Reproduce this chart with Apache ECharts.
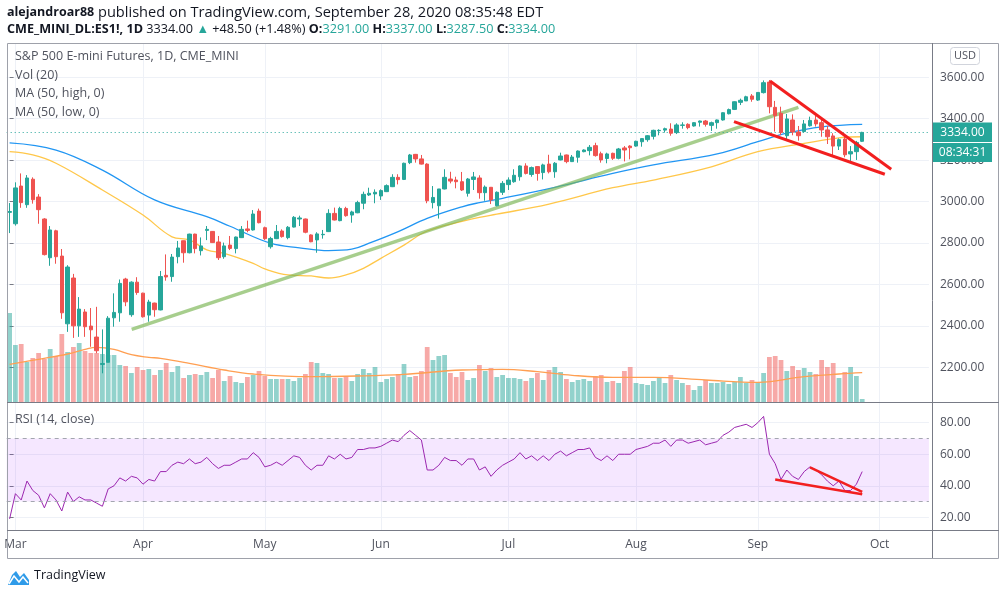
<!DOCTYPE html>
<html><head><meta charset="utf-8">
<script src="https://cdn.jsdelivr.net/npm/echarts@6/dist/echarts.min.js"></script>
<style>html,body{margin:0;padding:0;background:#fff}#c{width:1005px;height:595px}</style>
</head><body><div id="c"></div>
<script>
// ---- trading days (categories) ----
const daysFeb = [28];
const daysMar = [2,3,4,5,6,9,10,11,12,13,16,17,18,19,20,23,24,25,26,27,30,31];
const daysApr = [1,2,3,6,7,8,9,13,14,15,16,17,20,21,22,23,24,27,28,29,30];
const daysMay = [1,4,5,6,7,8,11,12,13,14,15,18,19,20,21,22,26,27,28,29];
const daysJun = [1,2,3,4,5,8,9,10,11,12,15,16,17,18,19,22,23,24,25,26,29,30];
const daysJul = [1,2,6,7,8,9,10,13,14,15,16,17,20,21,22,23,24,27,28,29,30,31];
const daysAug = [3,4,5,6,7,10,11,12,13,14,17,18,19,20,21,24,25,26,27,28,31];
const daysSep = [1,2,3,4,8,9,10,11,14,15,16,17,18,21,22,23,24,25,28,29,30];
const daysOct = [1,2,5,6,7,8,9,12,13];
const monthNames = ['Jan','Feb','Mar','Apr','May','Jun','Jul','Aug','Sep','Oct','Nov','Dec'];

// ---- OHLC ----
const opens = [2948,2893,3075,2985,3108,3022,2916,2729,2859,2737,
2410,2631,2400,2467,2399,2346,2214,2224,2439,2463,
2626,2454,2611,2558,2452,2510,2477,2644,2638,2734,
2811,2753,2843,2763,2861,2856,2805,2734,2790,2773,
2826,2868,2863,2954,2874,2782,2821,2858,2826,2877,
2916,2916,2839,2815,2840,2855,2943,2908,2967,2935,
2946,2992,3032,3037,3027,3048,3072,3117,3107,3188,
3228,3206,3181,2995,2980,3061,3109,3104,3096,3040,
3107,3114,3043,3069,2980,3045,3082,3096,3120,3172,
3131,3169,3140,3181,3144,3201,3225,3193,3214,3241,
3246,3270,3231,3208,3233,3209,3259,3268,3268,3289,
3299,3315,3342,3345,3350,3333,3368,3373,3365,3383,
3389,3368,3381,3394,3424,3445,3479,3486,3510,3490,
3526,3577,3455,3426,3318,3394,3336,3338,3366,3394,
3381,3346,3317,3268,3302,3230,3241,3291];
const highs = [2993,3093,3136,3128,3117,3036,2920,2882,2864,2771,
2693,2651,2539,2481,2486,2492,2383,2447,2557,2624,
2632,2615,2635,2560,2526,2512,2665,2745,2747,2810,
2812,2845,2845,2827,2882,2858,2834,2802,2834,2831,
2882,2908,2959,2966,2879,2830,2887,2866,2882,2930,
2932,2918,2842,2852,2863,2963,2971,2975,2975,2956,
3004,3048,3067,3059,3059,3083,3132,3132,3188,3230,
3230,3225,3185,3075,3061,3156,3144,3120,3143,3114,
3143,3127,3078,3070,3049,3099,3117,3156,3175,3185,
3169,3171,3183,3226,3191,3236,3227,3225,3247,3252,
3273,3284,3241,3236,3236,3259,3268,3272,3294,3305,
3321,3347,3349,3357,3378,3378,3383,3378,3383,3391,
3394,3386,3396,3431,3449,3484,3497,3511,3519,3528,
3585,3587,3486,3458,3423,3421,3365,3394,3410,3415,
3394,3365,3330,3305,3313,3268,3293,3337];
const lows = [2848,2884,2970,2970,2990,2893,2740,2690,2700,2434,
2371,2342,2347,2347,2299,2268,2171,2224,2396,2420,
2495,2444,2550,2440,2420,2444,2475,2618,2613,2702,
2705,2750,2750,2740,2814,2800,2718,2724,2766,2750,
2824,2852,2860,2895,2815,2773,2819,2826,2818,2875,
2882,2847,2804,2753,2821,2853,2909,2905,2927,2898,
2944,2963,3027,2992,3008,3046,3070,3083,3104,3181,
3188,3179,2992,2967,2918,3059,3088,3064,3051,3024,
3056,3014,3004,2988,2977,3032,3056,3091,3101,3131,
3120,3101,3107,3136,3115,3199,3185,3191,3188,3238,
3223,3217,3188,3185,3201,3204,3194,3204,3265,3265,
3289,3300,3320,3333,3318,3326,3352,3349,3362,3362,
3362,3341,3352,3391,3421,3442,3466,3486,3482,3486,
3522,3426,3338,3321,3294,3320,3294,3333,3362,3362,
3313,3278,3220,3249,3214,3194,3201,3287.5];
const closes = [2952,3066,2995,3114,3009,2961,2744,2863,2734,2463,
2684,2400,2481,2396,2381,2280,2218,2437,2465,2605,
2516,2611,2561,2444,2515,2478,2638,2636,2732,2776,
2753,2843,2773,2786,2866,2802,2729,2786,2774,2829,
2866,2861,2940,2898,2821,2822,2856,2831,2876,2924,
2921,2852,2806,2844,2842,2943,2911,2967,2932,2950,
2995,3035,3040,3045,3053,3077,3117,3106,3185,3225,
3206,3181,3004,3020,3061,3117,3099,3096,3056,3109,
3119,3043,3070,3008,3045,3088,3104,3127,3172,3136,
3164,3136,3177,3144,3185,3220,3193,3215,3244,3249,
3262,3222,3201,3230,3209,3254,3249,3260,3291,3304,
3318,3344,3344,3352,3330,3370,3370,3357,3381,3389,
3373,3381,3394,3429,3444,3482,3489,3506,3494,3527,
3574,3458,3415,3334,3399,3336,3318,3375,3392,3375,
3346,3313,3268,3299,3226,3241,3285.5,3334];

// ---- volume (thousand contracts) ----
const volumes = [3560,2280,2320,1600,1760,1960,1720,2120,1840,2720,
2000,2200,2360,2040,1960,1960,1920,1880,1880,1480,
1440,1160,1400,1280,1320,1080,1280,1560,1200,1440,
960,1080,1120,1080,1200,960,1280,840,1040,800,
760,1000,1080,1240,1040,920,920,920,920,840,
960,1120,1600,1560,1160,1120,960,960,1040,840,
1120,1320,1160,1400,800,920,1000,1120,1520,1000,
1040,1240,2200,1680,1840,1880,1160,1000,1200,880,
960,1480,1240,1360,1000,1080,960,960,920,840,
960,1160,880,1280,1400,1200,920,800,880,920,
840,1040,1080,800,840,760,1240,1400,760,720,
680,840,1000,760,1080,880,760,680,480,640,
880,760,760,800,720,800,1000,760,880,800,
1160,1800,1840,1680,1240,1440,1280,1360,1200,1120,
1680,1400,1560,960,1200,1400,1040,120];
const volMA20 = [[0,1508],[5,1708],[10,1920],[13,2108],[15,2188],[18,2108],[21,1892],[24,1788],[26,1748],[31,1548],[37,1280],[42,1120],[52,1012],[60,1040],[68,1108],[78,1280],[85,1308],[91,1212],[97,1068],[104,988],[111,988],[120,880],[129,788],[137,1012],[143,1120],[147,1172]];

// ---- moving averages ----
const maHigh50 = [[0,3283],[8,3249],[16,3152],[25,3008],[34,2927],[38,2881],[45,2799],[50,2777],[55,2763],[59,2770],[62,2799],[67,2855],[72,2919],[78,2975],[81,2995],[85,3016],[94,3069],[104,3136],[111,3177],[122,3230],[129,3289],[134,3330],[140,3361],[147,3373]];
const maLow50 = [[0,3241],[4,3225],[8,3185],[16,3056],[23,2935],[28,2830],[31,2815],[34,2767],[37,2750],[42,2702],[44,2675],[48,2646],[52,2641],[55,2631],[58,2646],[61,2678],[64,2726],[68,2790],[72,2858],[78,2904],[81,2924],[84,2939],[93,2988],[104,3067],[111,3104],[121,3168],[129,3241],[137,3281],[143,3308],[147,3313]];

// ---- RSI(14) ----
const rsi = [19,35,31,43,37,34,26,35,31,24,
36,30,33,31,31,29,27,38,40,45,
43,46,45,41,44,43,49,49,53,55,
54,57,54,55,58,54,51,53,53,55,
57,57,61,58,52,53,55,53,56,59,
58,53,50,53,53,59,57,60,57,58,
63,63,64,64,65,67,69,68,72,75,
72,69,50,50,53,58,56,56,53,57,
57,50,52,46,50,53,55,57,61,57,
59,56,59,56,60,62,59,61,63,63,
64,58,56,59,56,60,60,60,63,64,
65,67,67,69,65,69,69,67,68,69,
66,67,68,72,74,77,78,79,77,80,
84,60,54,44,50,46,44,49,52,50,
47,43,40,43,37,37,41,49];

// ---- drawn trend lines [barIndex, value] ----
const greenTrend = [[21.05,2383],[136,3455]];
const redUpper = [[131.1,3582],[152,3156]];
const redLower = [[124.9,3386],[150.9,3132]];
const rsiUpper = [[138,51.7],[147,36.2]];
const rsiLower = [[132,44],[147,34.6]];
const lastPrice = 3334;

// ---- build ----
const cats = [];
function addM(m, arr){ arr.forEach(d => cats.push('2020-' + m + '-' + String(d).padStart(2,'0'))); }
addM('02',daysFeb); addM('03',daysMar); addM('04',daysApr); addM('05',daysMay);
addM('06',daysJun); addM('07',daysJul); addM('08',daysAug); addM('09',daysSep); addM('10',daysOct);
const N = cats.length;
const UP = '#26a69a', DN = '#ef5350';
const candleData = opens.map((o,i)=>[o, closes[i], lows[i], highs[i]]);
const volData = volumes.map((v,i)=>({value:v, itemStyle:{color: closes[i]>=opens[i] ? 'rgba(38,166,154,0.5)' : 'rgba(239,83,80,0.5)'}}));
function isMonthStart(i){ return i>0 && cats[i].slice(5,7)!==cats[i-1].slice(5,7); }

const F = '"Open Sans", "Liberation Sans", sans-serif';
const GL = 6.7, GR = 76.1;
const gridLineColor = '#eef1f7';
const legendStyle = {fontFamily:F,fontSize:12.5,fontWeight:'normal',color:'#50535e'};
const hdrB = {fontFamily:F,fontSize:12.6,fontWeight:'bold',color:'#131722'};
const hdrN = {fontFamily:F,fontSize:12.7,fontWeight:'normal',color:'#131722'};
const hdrG = {fontFamily:F,fontSize:12.7,fontWeight:'normal',color:UP};

const option = {
  animation:false,
  backgroundColor:'#ffffff',
  textStyle:{fontFamily:F},
  title:[
    {left:7, top:5, padding:0, text:'{b|alejandroar88}{n| published on TradingView.com, September 28, 2020 08:35:48 EDT}',
     textStyle:{fontWeight:'normal', rich:{b:{fontFamily:F,fontSize:12.5,fontWeight:'bold',color:'#131722'}, n:{fontFamily:F,fontSize:14.6,fontWeight:'normal',color:'#131722'}}}},
    {left:7, top:23, padding:0, text:'{b|CME_MINI_DL:ES1!, 1D}{n| 3334.00 }{g|▲}{n| +48.50 (+1.48%) }{b|O:}{g|3291.00}{b| H:}{g|3337.00}{b| L:}{g|3287.50}{b| C:}{g|3334.00}',
     textStyle:{fontWeight:'normal', rich:{b:hdrB, n:hdrN, g:hdrG}}},
    {left:15, top:50, padding:0, text:'S&P 500 E-mini Futures, 1D, CME_MINI', textStyle:legendStyle},
    {left:15, top:68.5, padding:0, text:'Vol (20)', textStyle:legendStyle},
    {left:15, top:87, padding:0, text:'MA (50, high, 0)', textStyle:legendStyle},
    {left:15, top:105.5, padding:0, text:'MA (50, low, 0)', textStyle:legendStyle},
    {left:15, top:413, padding:0, text:'RSI (14, close)', textStyle:legendStyle},
    {left:34, top:569, padding:0, text:'TradingView', textStyle:{fontFamily:F,fontSize:12.5,fontWeight:'normal',color:'#131722'}}
  ],
  grid:[
    {left:GL, right:GR, top:43, height:359, outerBoundsMode:'none'},
    {left:GL, right:GR, top:300, height:102, outerBoundsMode:'none'},
    {left:GL, right:GR, top:403, height:127, outerBoundsMode:'none'}
  ],
  xAxis:[
    {type:'category', gridIndex:0, data:cats, boundaryGap:true,
     axisLine:{show:false}, axisTick:{show:false}, axisLabel:{show:false},
     splitLine:{show:true, alignWithLabel:true, interval:(i)=>isMonthStart(i), lineStyle:{color:gridLineColor}}},
    {type:'category', gridIndex:1, data:cats, boundaryGap:true, show:false},
    {type:'value', gridIndex:0, min:-0.5, max:N-0.5, show:false},
    {type:'value', gridIndex:1, min:-0.5, max:N-0.5, show:false},
    {type:'category', gridIndex:2, data:cats, boundaryGap:true,
     axisLine:{show:false}, axisTick:{show:false},
     axisLabel:{show:true, interval:(i)=>isMonthStart(i), formatter:(v)=>monthNames[+v.slice(5,7)-1], color:'#50535e', fontSize:12, fontFamily:F, margin:9},
     splitLine:{show:true, alignWithLabel:true, interval:(i)=>isMonthStart(i), lineStyle:{color:gridLineColor}}},
    {type:'value', gridIndex:2, min:-0.5, max:N-0.5, show:false}
  ],
  yAxis:[
    {type:'value', gridIndex:0, position:'right', offset:3.1, min:2032.5, max:3765.6, minInterval:200, maxInterval:200, scale:true,
     axisLine:{show:false}, axisTick:{show:true, length:4, lineStyle:{color:'#787b86'}},
     axisLabel:{formatter:(v)=>v.toFixed(2), color:'#50535e', fontSize:12, fontFamily:F, margin:8, showMinLabel:false, showMaxLabel:false},
     splitLine:{show:true, showMinLine:false, showMaxLine:false, lineStyle:{color:gridLineColor}}},
    {type:'value', gridIndex:1, min:0, max:4080, show:false},
    {type:'value', gridIndex:2, position:'right', offset:3.1, min:11.95, max:92.5, minInterval:20, maxInterval:20, scale:true,
     axisLine:{show:false}, axisTick:{show:true, length:4, lineStyle:{color:'#787b86'}},
     axisLabel:{formatter:(v)=>v.toFixed(2), color:'#50535e', fontSize:12, fontFamily:F, margin:8, showMinLabel:false, showMaxLabel:false},
     splitLine:{show:true, showMinLine:false, showMaxLine:false, lineStyle:{color:gridLineColor}}}
  ],
  series:[
    {type:'bar', name:'Vol', xAxisIndex:1, yAxisIndex:1, data:volData, barWidth:'82%', z:1},
    {type:'line', name:'VolMA', xAxisIndex:3, yAxisIndex:1, data:volMA20, smooth:0.4, showSymbol:false, lineStyle:{color:'#ff9f52', width:1.3}, z:2},
    {type:'line', name:'MAhigh', xAxisIndex:2, yAxisIndex:0, data:maHigh50, smooth:0.4, showSymbol:false, lineStyle:{color:'#2196f3', width:1.3}, z:3},
    {type:'line', name:'MAlow', xAxisIndex:2, yAxisIndex:0, data:maLow50, smooth:0.4, showSymbol:false, lineStyle:{color:'#ffc74a', width:1.3}, z:3},
    {type:'line', name:'green', xAxisIndex:2, yAxisIndex:0, data:greenTrend, showSymbol:false, lineStyle:{color:'rgba(120,180,80,0.65)', width:3.5}, z:4},
    {type:'candlestick', name:'ES1!', xAxisIndex:0, yAxisIndex:0, data:candleData, barWidth:4, z:5,
     itemStyle:{color:UP, color0:DN, borderColor:UP, borderColor0:DN, borderWidth:1},
     markLine:{silent:true, symbol:'none', label:{show:false}, lineStyle:{color:UP, type:[1,3], width:1}, data:[{yAxis:lastPrice}]}},
    {type:'line', name:'redU', xAxisIndex:2, yAxisIndex:0, data:redUpper, showSymbol:false, lineStyle:{color:'#f21f1f', width:3}, z:6},
    {type:'line', name:'redL', xAxisIndex:2, yAxisIndex:0, data:redLower, showSymbol:false, lineStyle:{color:'#f21f1f', width:3}, z:6},
    {type:'line', name:'RSI', xAxisIndex:4, yAxisIndex:2, data:rsi, showSymbol:false, lineStyle:{color:'#9c27b0', width:1}, z:3,
     markArea:{silent:true, itemStyle:{color:'rgba(153,21,255,0.1)'}, data:[[{yAxis:30},{yAxis:70}]]},
     markLine:{silent:true, symbol:'none', label:{show:false}, lineStyle:{color:'#a3a6af', type:[4,4], width:1}, data:[{yAxis:30},{yAxis:70}]}},
    {type:'line', name:'rsiU', xAxisIndex:5, yAxisIndex:2, data:rsiUpper, showSymbol:false, lineStyle:{color:'#f21f1f', width:2.5}, z:6},
    {type:'line', name:'rsiL', xAxisIndex:5, yAxisIndex:2, data:rsiLower, showSymbol:false, lineStyle:{color:'#f21f1f', width:2.5}, z:6}
  ],
  graphic:[
    {type:'rect', silent:true, z:100, shape:{x:7.5, y:43.5, width:991, height:515}, style:{fill:'none', stroke:'#9ea1aa', lineWidth:1}},
    {type:'line', silent:true, z:100, shape:{x1:932.5, y1:43, x2:932.5, y2:558}, style:{stroke:'#787b86', lineWidth:1}},
    {type:'line', silent:true, z:100, shape:{x1:7, y1:402.5, x2:999, y2:402.5}, style:{stroke:'#787b86', lineWidth:1}},
    {type:'line', silent:true, z:100, shape:{x1:7, y1:530.5, x2:999, y2:530.5}, style:{stroke:'#787b86', lineWidth:1}},
    {type:'rect', silent:true, z:100, shape:{x:950.5, y:47.5, width:29, height:17, r:3}, style:{fill:'#fff', stroke:'#d1d4dc', lineWidth:1}},
    {type:'text', silent:true, z:101, x:965, y:56, style:{text:'USD', fill:'#50535e', font:'11px '+F, textAlign:'center', textVerticalAlign:'middle'}},
    {type:'rect', silent:true, z:100, shape:{x:933, y:122.5, width:59, height:19.5}, style:{fill:UP}},
    {type:'text', silent:true, z:101, x:962.5, y:132.3, style:{text:'3334.00', fill:'#fff', font:'12px '+F, textAlign:'center', textVerticalAlign:'middle'}},
    {type:'rect', silent:true, z:100, shape:{x:933, y:143, width:59, height:19}, style:{fill:UP}},
    {type:'text', silent:true, z:101, x:962.5, y:152.5, style:{text:'08:34:31', fill:'#fff', font:'12px '+F, textAlign:'center', textVerticalAlign:'middle'}},
    {type:'polygon', silent:true, z:100, shape:{points:[[8,585],[12,575],[16,571],[20,577],[24,573],[29,580],[29,585]]}, style:{fill:'#2f9be9'}},
    {type:'polyline', silent:true, z:101, shape:{points:[[9,584],[14,576],[19,582],[23,577],[28,583]]}, style:{stroke:'#fff', lineWidth:1.5, fill:'none'}}
  ]
};
const chart = echarts.init(document.getElementById('c'));
chart.setOption(option);
</script>
</body></html>
